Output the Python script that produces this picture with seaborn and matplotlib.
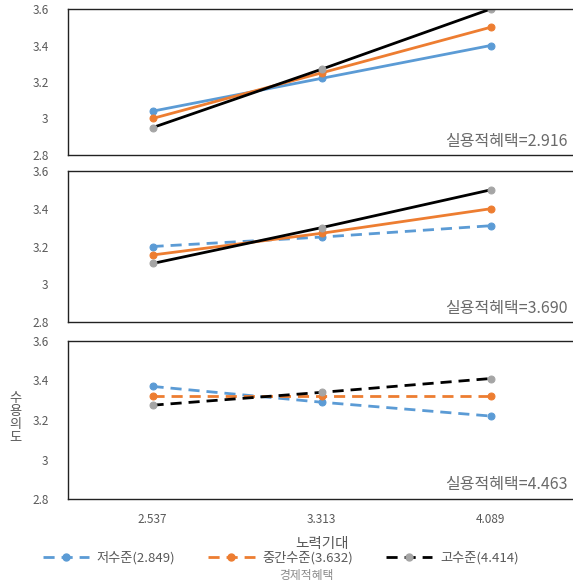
# 노력기대 x 실용적혜택 x 경제적혜택 interaction plot
import pandas as pd
import matplotlib
matplotlib.use("Agg")
import matplotlib.pyplot as plt
import seaborn as sns
from matplotlib.lines import Line2D
from matplotlib.ticker import FormatStrFormatter

# x categories (노력기대 levels)
effort = ["2.537", "3.313", "4.089"]

# group names (경제적혜택 levels)
groups = ["저수준(2.849)", "중간수준(3.632)", "고수준(4.414)"]

# panel labels (실용적혜택 levels)
panels = ["실용적혜택=2.916", "실용적혜택=3.690", "실용적혜택=4.463"]

# values, one list per panel / group
p1_low = [3.04, 3.22, 3.40]
p1_mid = [3.00, 3.25, 3.50]
p1_high = [2.95, 3.27, 3.60]

p2_low = [3.20, 3.25, 3.31]
p2_mid = [3.155, 3.27, 3.40]
p2_high = [3.11, 3.30, 3.50]

p3_low = [3.37, 3.29, 3.22]
p3_mid = [3.32, 3.32, 3.32]
p3_high = [3.275, 3.34, 3.41]

data = [[p1_low, p1_mid, p1_high],
        [p2_low, p2_mid, p2_high],
        [p3_low, p3_mid, p3_high]]

# which lines are dashed in each panel
dashed = [[False, False, False],
          [True, False, False],
          [True, True, True]]

line_colors = ["#5B9BD5", "#ED7D31", "#000000"]
marker_colors = ["#5B9BD5", "#ED7D31", "#A5A5A5"]
grey = "#595959"

sns.set_style("white")
plt.rcParams["font.family"] = ["Noto Sans CJK KR", "DejaVu Sans"]

fig = plt.figure(figsize=(5.73, 5.82), dpi=100)

# panel boxes (left, bottom, width, height)
boxes = [(0.1187, 0.7337, 0.885, 0.2508),
         (0.1187, 0.4467, 0.885, 0.2595),
         (0.1187, 0.1426, 0.885, 0.2715)]

axes = []
for i in range(3):
    ax = fig.add_axes(boxes[i])
    axes.append(ax)
    for j in range(3):
        df = pd.DataFrame({"x": effort, "y": data[i][j]})
        sns.lineplot(data=df, x="x", y="y", ax=ax, color=line_colors[j],
                     linewidth=2, marker="o", markersize=5,
                     markerfacecolor=marker_colors[j],
                     markeredgecolor=marker_colors[j],
                     linestyle=(0, (4, 2.5)) if dashed[i][j] else "-",
                     sort=False)
    ax.set_xlim(-0.5, 2.5)
    ax.set_ylim(2.8, 3.6)
    ax.set_yticks([2.8, 3.0, 3.2, 3.4, 3.6])
    ax.yaxis.set_major_formatter(FormatStrFormatter("%g"))
    ax.tick_params(length=0, labelsize=8.5, labelcolor=grey, pad=14)
    ax.set_xlabel("")
    ax.set_ylabel("")
    for s in ["left", "top", "bottom"]:
        ax.spines[s].set_color("#222222")
        ax.spines[s].set_linewidth(1.0)
    ax.spines["right"].set_visible(False)
    ax.text(0.985, 0.035, panels[i], transform=ax.transAxes, ha="right",
            va="bottom", fontsize=11.5, color="#6a6a6a")
    if i < 2:
        ax.set_xticklabels([])

axes[2].tick_params(axis="x", pad=10)
axes[2].set_xlabel("노력기대", fontsize=10.5, color=grey, labelpad=8)

# stacked y label to the left of the bottom panel
fig.text(0.027, 0.282, "수\n용\n의\n도", ha="center", va="center",
         fontsize=9.5, color=grey, linespacing=1.0)

# legend with dashed lines for every group
handles = [Line2D([], [], color=line_colors[j], linewidth=2,
                  linestyle=(0, (4, 2.5)), marker="o", markersize=5,
                  markerfacecolor=marker_colors[j],
                  markeredgecolor=marker_colors[j]) for j in range(3)]
fig.legend(handles, groups, loc="center", bbox_to_anchor=(0.49, 0.041),
           ncol=3, frameon=False, fontsize=9.5, labelcolor=grey,
           handlelength=3.5, columnspacing=2.5, handletextpad=0.6)
fig.text(0.535, 0.012, "경제적혜택", ha="center", va="center",
         fontsize=8.5, color="#8a8a8a")

fig.savefig("out.png", dpi=100)
